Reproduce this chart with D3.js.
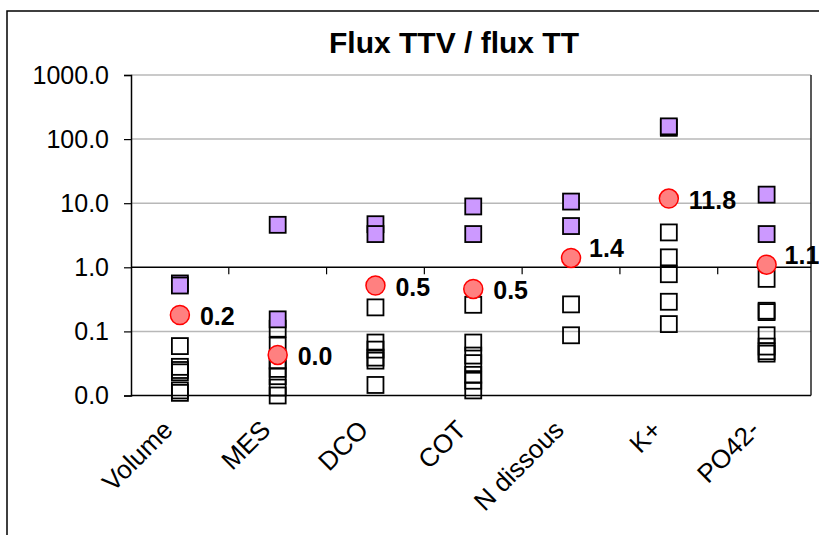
<!DOCTYPE html>
<html>
<head>
<meta charset="utf-8">
<script src="https://cdn.jsdelivr.net/npm/d3@7"></script>
<style>
  html, body { margin: 0; padding: 0; background: #fff; }
  svg { display: block; }
  text { font-family: "Liberation Sans", Arial, sans-serif; }
</style>
</head>
<body>
<svg id="chart" width="819" height="535"></svg>
<script>
// Categories on the horizontal axis
const categories = ["Volume", "MES", "DCO", "COT", "N dissous", "K+", "PO42-"];

// Mean ratio per parameter (red circles, labelled)
const meanRatio = [0.18, 0.043, 0.52, 0.46, 1.40, 11.8, 1.1];

// High-ratio events (filled purple squares)
const highRatio = [
  [0.56, 0.52],
  [4.6, 0.154],
  [4.7, 3.3],
  [8.9, 3.3],
  [10.6, 4.4],
  [150, 158],
  [13.6, 3.3]
];

// Other events (open squares)
const lowRatio = [
  [0.059, 0.028, 0.025, 0.023, 0.012, 0.011],
  [0.11, 0.060, 0.035, 0.026, 0.020, 0.0133, 0.010],
  [0.237, 0.067, 0.052, 0.039, 0.035, 0.0146],
  [0.26, 0.067, 0.042, 0.032, 0.021, 0.017, 0.012],
  [0.264, 0.087],
  [3.5, 1.43, 0.78, 0.29, 0.13],
  [0.66, 0.21, 0.20, 0.087, 0.058, 0.049, 0.045]
];

// Y axis tick values
const yTicks = [0.01, 0.1, 1, 10, 100, 1000];

const title = "Flux TTV / flux TT";

const svg = d3.select("#chart");

// Chart frame
svg.append("rect")
  .attr("x", 7).attr("y", 11)
  .attr("width", 830).attr("height", 540)
  .attr("fill", "#fff").attr("stroke", "#000").attr("stroke-width", 1.5);

const plot = { left: 131, right: 811, top: 75, bottom: 395.5 };

const x = d3.scaleBand().domain(categories).range([plot.left, 815.5]);
const y = d3.scaleLog().domain([0.01, 1000]).range([plot.bottom, plot.top]);
const fmt = d3.format(".1f");

// Title
svg.append("text")
  .attr("x", 454).attr("y", 53)
  .attr("text-anchor", "middle")
  .attr("font-size", 30).attr("font-weight", "bold")
  .text(title);

// Grid lines
svg.append("g").selectAll("line")
  .data(yTicks.filter(v => v !== 0.01 && v !== 1))
  .join("line")
  .attr("x1", plot.left).attr("x2", plot.right)
  .attr("y1", d => y(d)).attr("y2", d => y(d))
  .attr("stroke", "#b8b8b8").attr("stroke-width", 1.5);

// Bottom and right edges of plot area
svg.append("line")
  .attr("x1", plot.left).attr("x2", plot.right)
  .attr("y1", plot.bottom).attr("y2", plot.bottom)
  .attr("stroke", "#000").attr("stroke-width", 1.5);
svg.append("line")
  .attr("x1", plot.right).attr("x2", plot.right)
  .attr("y1", plot.top).attr("y2", plot.bottom)
  .attr("stroke", "#222").attr("stroke-width", 1.5);

// Y axis
const yAxis = d3.axisLeft(y).tickValues(yTicks).tickFormat(fmt).tickSize(7).tickPadding(15);
const gy = svg.append("g").attr("transform", `translate(${plot.left},0)`).call(yAxis);
gy.select(".domain").attr("stroke", "#000").attr("stroke-width", 1.5);
gy.selectAll(".tick line").attr("stroke", "#000").attr("stroke-width", 1.2);
gy.selectAll(".tick text")
  .attr("font-size", 25).attr("fill", "#000")
  .attr("font-family", "'Liberation Sans', Arial, sans-serif");

// X axis crossing at 1.0
const xAxis = d3.axisBottom(x).tickSize(0).tickFormat("");
const gx = svg.append("g").attr("transform", `translate(0,${y(1)})`).call(xAxis);
gx.select(".domain").attr("d", `M${plot.left},0H${plot.right}`)
  .attr("stroke", "#000").attr("stroke-width", 1.5);
gx.selectAll(".tick").remove();
gx.selectAll(".sep")
  .data(categories.slice(1))
  .join("line")
  .attr("class", "sep")
  .attr("x1", d => x(d)).attr("x2", d => x(d))
  .attr("y1", 0).attr("y2", 7)
  .attr("stroke", "#000").attr("stroke-width", 1.2);

// Category labels, rotated
svg.append("g").selectAll("text")
  .data(categories)
  .join("text")
  .attr("transform", d => `translate(${x(d) + x.bandwidth() / 2 - 12},${425}) rotate(-45)`)
  .attr("text-anchor", "end")
  .attr("dy", "0.35em")
  .attr("font-size", 26)
  .text(d => d);

const cx = i => x(categories[i]) + x.bandwidth() / 2;
const sq = 16;

// Open squares
const lowPts = lowRatio.flatMap((arr, i) => arr.map(v => ({ i, v })));
svg.append("g").selectAll("rect")
  .data(lowPts)
  .join("rect")
  .attr("x", d => cx(d.i) - sq / 2)
  .attr("y", d => y(d.v) - sq / 2)
  .attr("width", sq).attr("height", sq)
  .attr("fill", "none").attr("stroke", "#000").attr("stroke-width", 1.8);

// Filled squares
const highPts = highRatio.flatMap((arr, i) => arr.map(v => ({ i, v })));
svg.append("g").selectAll("rect")
  .data(highPts)
  .join("rect")
  .attr("x", d => cx(d.i) - sq / 2)
  .attr("y", d => y(d.v) - sq / 2)
  .attr("width", sq).attr("height", sq)
  .attr("fill", "#cc99ff").attr("stroke", "#000").attr("stroke-width", 1.8);

// Mean circles
svg.append("g").selectAll("circle")
  .data(meanRatio)
  .join("circle")
  .attr("cx", (d, i) => cx(i))
  .attr("cy", d => y(d))
  .attr("r", 9.5)
  .attr("fill", "#ff8080").attr("stroke", "#ff0000").attr("stroke-width", 1.5);

// Value labels beside the circles; two are nudged upward
const nudgeUp = new Set(["N dissous", "PO42-"]);
svg.append("g").selectAll("text")
  .data(meanRatio)
  .join("text")
  .attr("x", (d, i) => cx(i) + (nudgeUp.has(categories[i]) ? 18 : 20))
  .attr("y", (d, i) => y(d) + (nudgeUp.has(categories[i]) ? -10 : 1))
  .attr("dy", "0.36em")
  .attr("font-size", 25).attr("font-weight", "bold")
  .text(d => fmt(d));
</script>
</body>
</html>
